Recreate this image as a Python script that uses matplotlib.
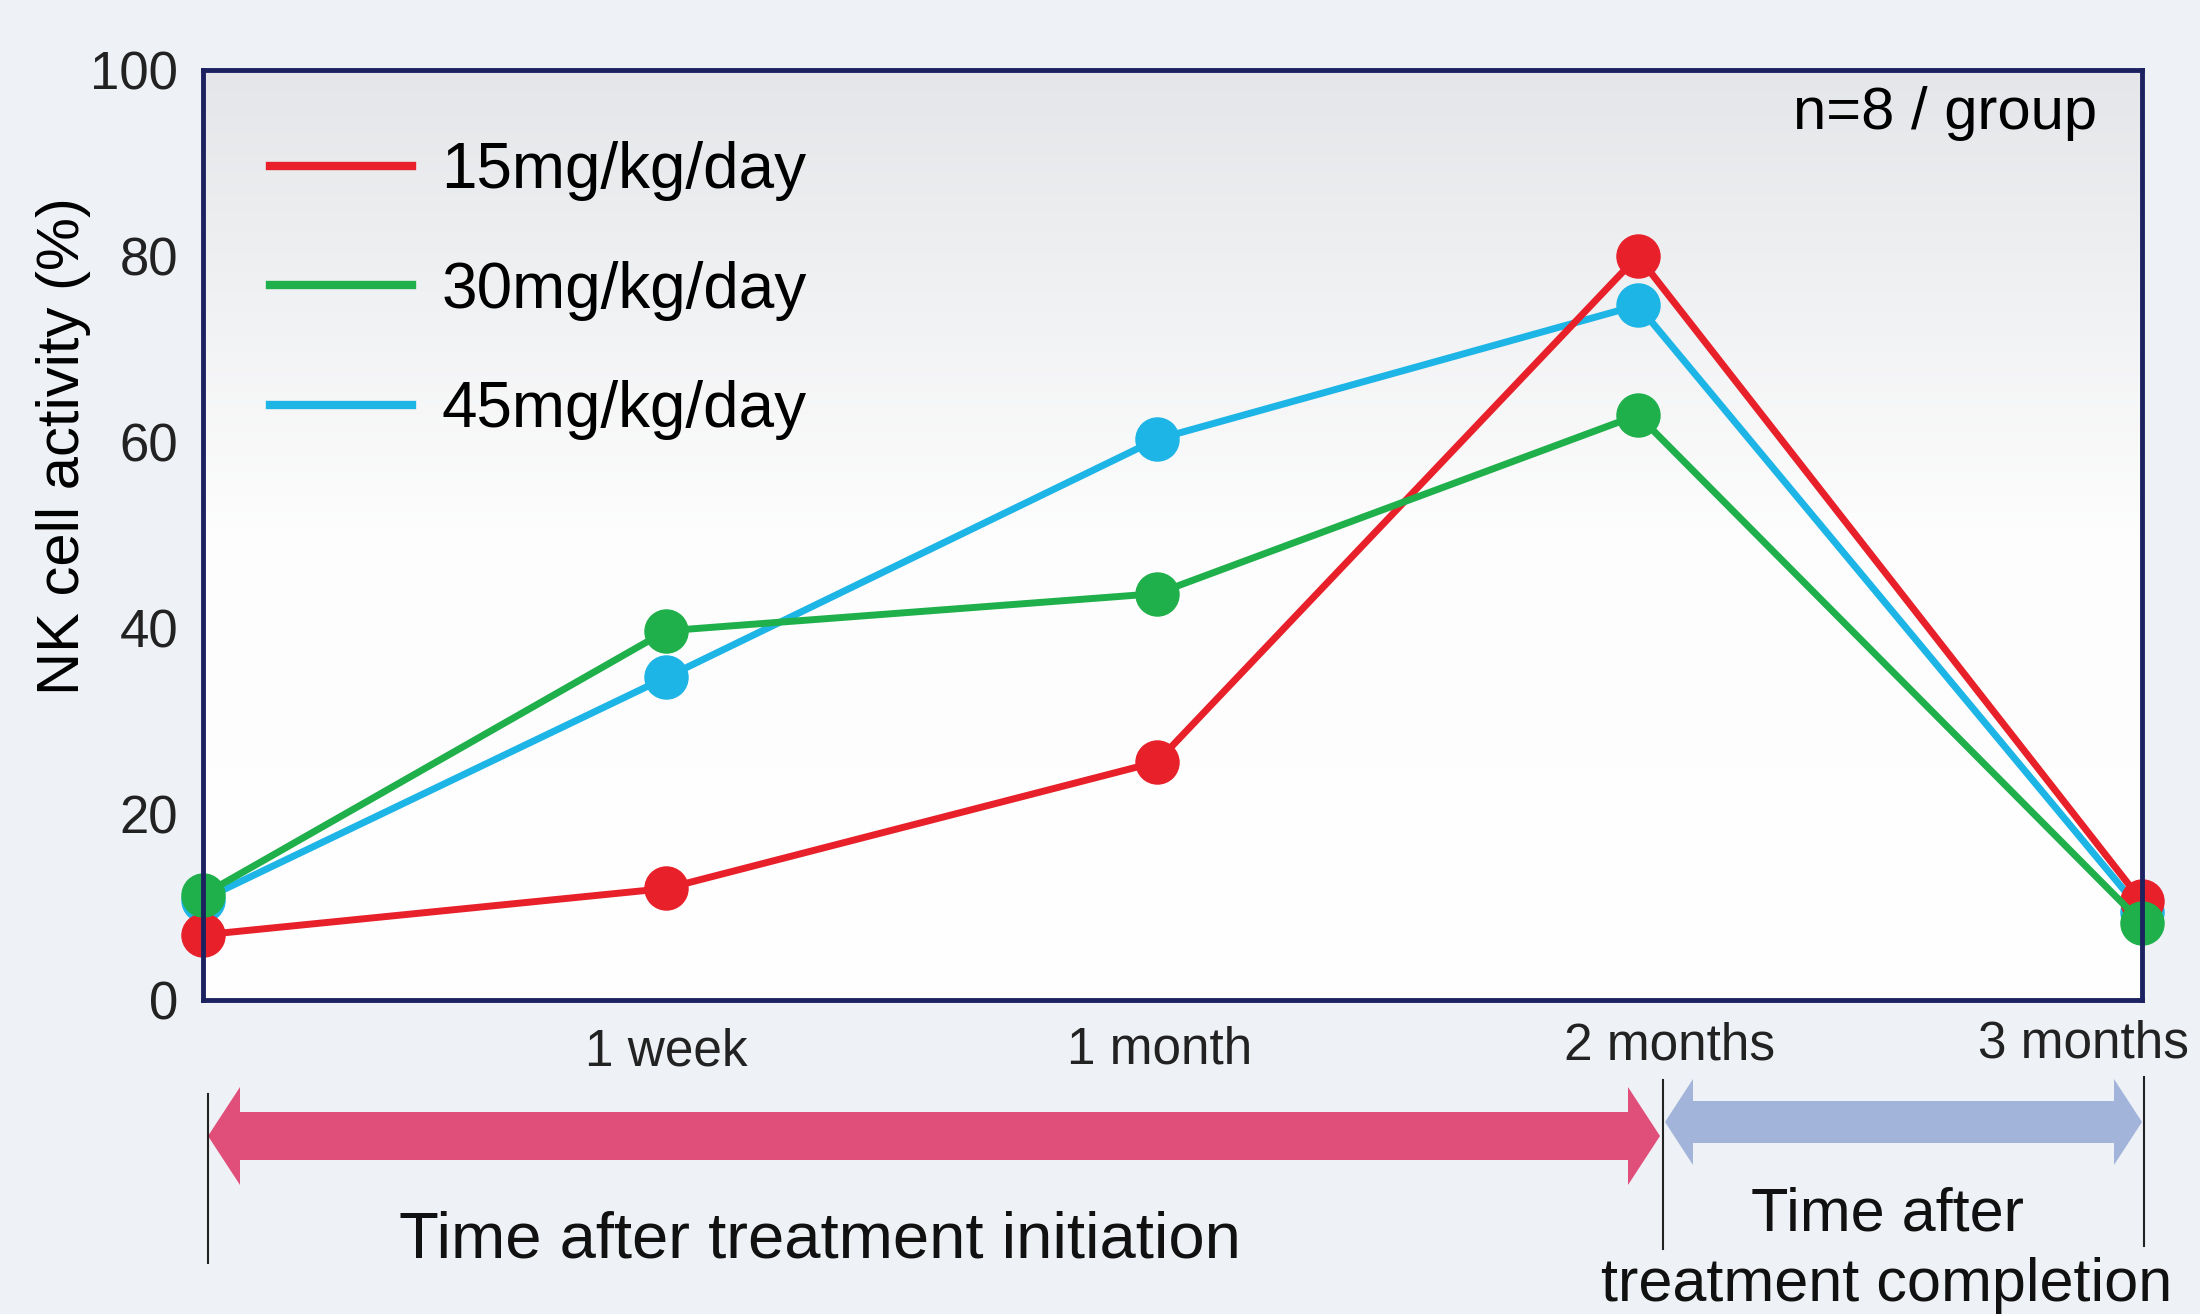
import numpy as np
import matplotlib.pyplot as plt
from matplotlib.patches import Polygon
from matplotlib.lines import Line2D
from matplotlib.colors import LinearSegmentedColormap

plt.rcParams['font.family'] = ['Liberation Sans', 'DejaVu Sans']

# time points (position along the axis, 0 = start of treatment, 1 = 3 months)
time_labels = ['1 week', '1 month', '2 months', '3 months']
x_pos = [0.0, 0.239, 0.492, 0.740, 1.0]

# NK cell activity (%) per dose group
dose_15 = [7.0, 12.0, 25.6, 80.0, 10.6]
dose_30 = [11.3, 39.7, 43.7, 62.9, 8.3]
dose_45 = [10.8, 34.7, 60.3, 74.7, 9.5]
series_labels = ['15mg/kg/day', '30mg/kg/day', '45mg/kg/day']
series_colors = ['#e8202a', '#1fb04b', '#1db4e6']
y_ticks = [0, 20, 40, 60, 80, 100]

W, H = 2200, 1314
fig = plt.figure(figsize=(22, 13.14), dpi=100, facecolor='#eef2f6')


def fx(x):
    return x / W


def fy(y):
    return 1 - y / H


ax = fig.add_axes([fx(203), fy(1000), fx(2142) - fx(203), fy(70) - fy(1000)])
ax.set_xlim(0, 1)
ax.set_ylim(0, 100)

# greyish top fading to white in the plot area
grad = np.linspace(0, 1, 256).reshape(-1, 1)
cmap = LinearSegmentedColormap.from_list('bg', [(0, '#ffffff'), (0.5, '#fdfdfd'), (1, '#e4e6e9')])
ax.imshow(grad, extent=[0, 1, 0, 100], aspect='auto', origin='lower', cmap=cmap, zorder=0)

order = [2, 0, 1]  # cyan under red under green
data = [dose_15, dose_30, dose_45]
for z, i in enumerate(order):
    ax.plot(x_pos, data[i], color=series_colors[i], lw=5, marker='o', ms=31,
            clip_on=False, zorder=3 + z)
handles = [Line2D([], [], color=c, lw=6) for c in series_colors]

ax.legend(handles, series_labels, loc='upper left', bbox_to_anchor=(0.0347, 0.9235),
          frameon=False, fontsize=46, handlelength=2.22, handletextpad=0.46,
          labelspacing=0.93, borderpad=0, borderaxespad=0)

ax.text(0.977, 95.3, 'n=8 / group', ha='right', va='center', fontsize=43)

for s in ax.spines.values():
    s.set_color('#1c2260')
    s.set_linewidth(3.5)
    s.set_zorder(10)

ax.set_yticks(y_ticks)
ax.set_xticks([])
ax.tick_params(axis='y', length=0, pad=18, labelsize=38, labelcolor='#222222')

ax.text(-0.072, 0.596, 'NK cell activity (%)', rotation=90, ha='center', va='center',
        fontsize=43, transform=ax.transAxes)

# time labels under the axis
label_x = [666, 1160, 1670, 2083]
label_base = [1066, 1063, 1060, 1057]
for t, lx, ly in zip(time_labels, label_x, label_base):
    fig.text(fx(lx), fy(ly), t, ha='center', va='baseline', fontsize=37, color='#222222')


def double_arrow(x0, x1, yc, body, head, hl, color):
    pts = [(x0, yc), (x0 + hl, yc - head), (x0 + hl, yc - body), (x1 - hl, yc - body),
           (x1 - hl, yc - head), (x1, yc), (x1 - hl, yc + head), (x1 - hl, yc + body),
           (x0 + hl, yc + body), (x0 + hl, yc + head)]
    poly = Polygon([(fx(a), fy(b)) for a, b in pts], closed=True, transform=fig.transFigure,
                   facecolor=color, edgecolor='none')
    fig.patches.append(poly)


double_arrow(208, 1660, 1136, 24, 49, 32, '#e04f7a')
double_arrow(1665, 2142, 1122, 21, 43, 28, '#a2b4da')

for x, y0, y1 in [(208, 1094, 1263), (1663, 1080, 1249), (2144, 1077, 1246)]:
    fig.lines.append(Line2D([fx(x), fx(x)], [fy(y0), fy(y1)], color='#222222', lw=1.5,
                            transform=fig.transFigure))

fig.text(fx(820), fy(1258), 'Time after treatment initiation', ha='center', va='baseline',
         fontsize=47, color='#111111')
fig.text(fx(1887), fy(1301), 'Time after\ntreatment completion', ha='center', va='baseline',
         multialignment='center', linespacing=1.3, fontsize=44, color='#111111')

fig.savefig('out.png', dpi=100, facecolor=fig.get_facecolor())
